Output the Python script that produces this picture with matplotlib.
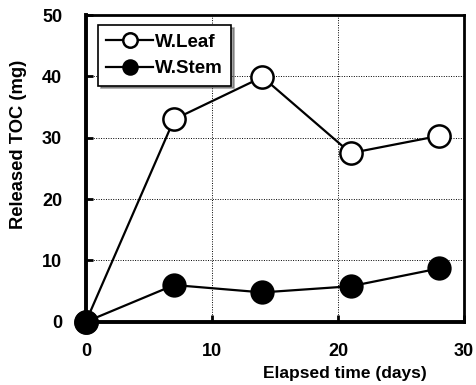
import numpy as np
import matplotlib
matplotlib.use('Agg')
import matplotlib.pyplot as plt

# Data
days = [0, 7, 14, 21, 28]
leaf_toc = [0, 33.0, 39.9, 27.5, 30.3]
stem_toc = [0, 6.0, 4.8, 5.8, 8.7]

plt.rcParams['font.family'] = ['Liberation Sans', 'DejaVu Sans']
plt.rcParams['font.weight'] = 'bold'

fig = plt.figure(figsize=(4.77, 3.85), dpi=100)
ax = fig.add_axes([0.180, 0.164, 0.793, 0.797])

ax.plot(days, leaf_toc, color='black', lw=1.6, marker='o', ms=16,
        mfc='white', mec='black', mew=1.8, label='W.Leaf', zorder=3,
        clip_on=False)
ax.plot(days, stem_toc, color='black', lw=1.6, marker='o', ms=16,
        mfc='black', mec='black', mew=1.5, label='W.Stem', zorder=4,
        clip_on=False)

ax.set_xlim(0, 30)
ax.set_ylim(0, 50)
ax.set_xticks([0, 10, 20, 30])
ax.set_yticks([0, 10, 20, 30, 40, 50])
ax.grid(True, color='black', ls=(0, (1, 1.5)), lw=0.7)
ax.set_axisbelow(True)

for s in ax.spines.values():
    s.set_linewidth(2.0)
ax.spines['left'].set_linewidth(2.8)
ax.spines['bottom'].set_linewidth(2.8)
ax.tick_params(direction='in', length=5, width=2, labelsize=13)
ax.tick_params(axis='x', pad=15)
ax.tick_params(axis='y', pad=17)
for lab in ax.get_xticklabels() + ax.get_yticklabels():
    lab.set_fontweight('bold')

ax.set_xlabel('Elapsed time (days)', fontsize=12.5, fontweight='bold')
ax.set_ylabel('Released TOC (mg)', fontsize=13.2, fontweight='bold')
ax.xaxis.set_label_coords(0.685, -0.145)
ax.yaxis.set_label_coords(-0.155, 0.578)

leg = ax.legend(loc='upper left', bbox_to_anchor=(0.032, 0.967), fontsize=13.5,
                fancybox=False, shadow=True, framealpha=1, edgecolor='black',
                handlelength=2.5, markerscale=0.65, borderpad=0.45,
                labelspacing=0.5, handletextpad=0.1, borderaxespad=0)
leg.get_frame().set_linewidth(1.2)
for t in leg.get_texts():
    t.set_fontweight('bold')

plt.savefig('out.png', dpi=100)
